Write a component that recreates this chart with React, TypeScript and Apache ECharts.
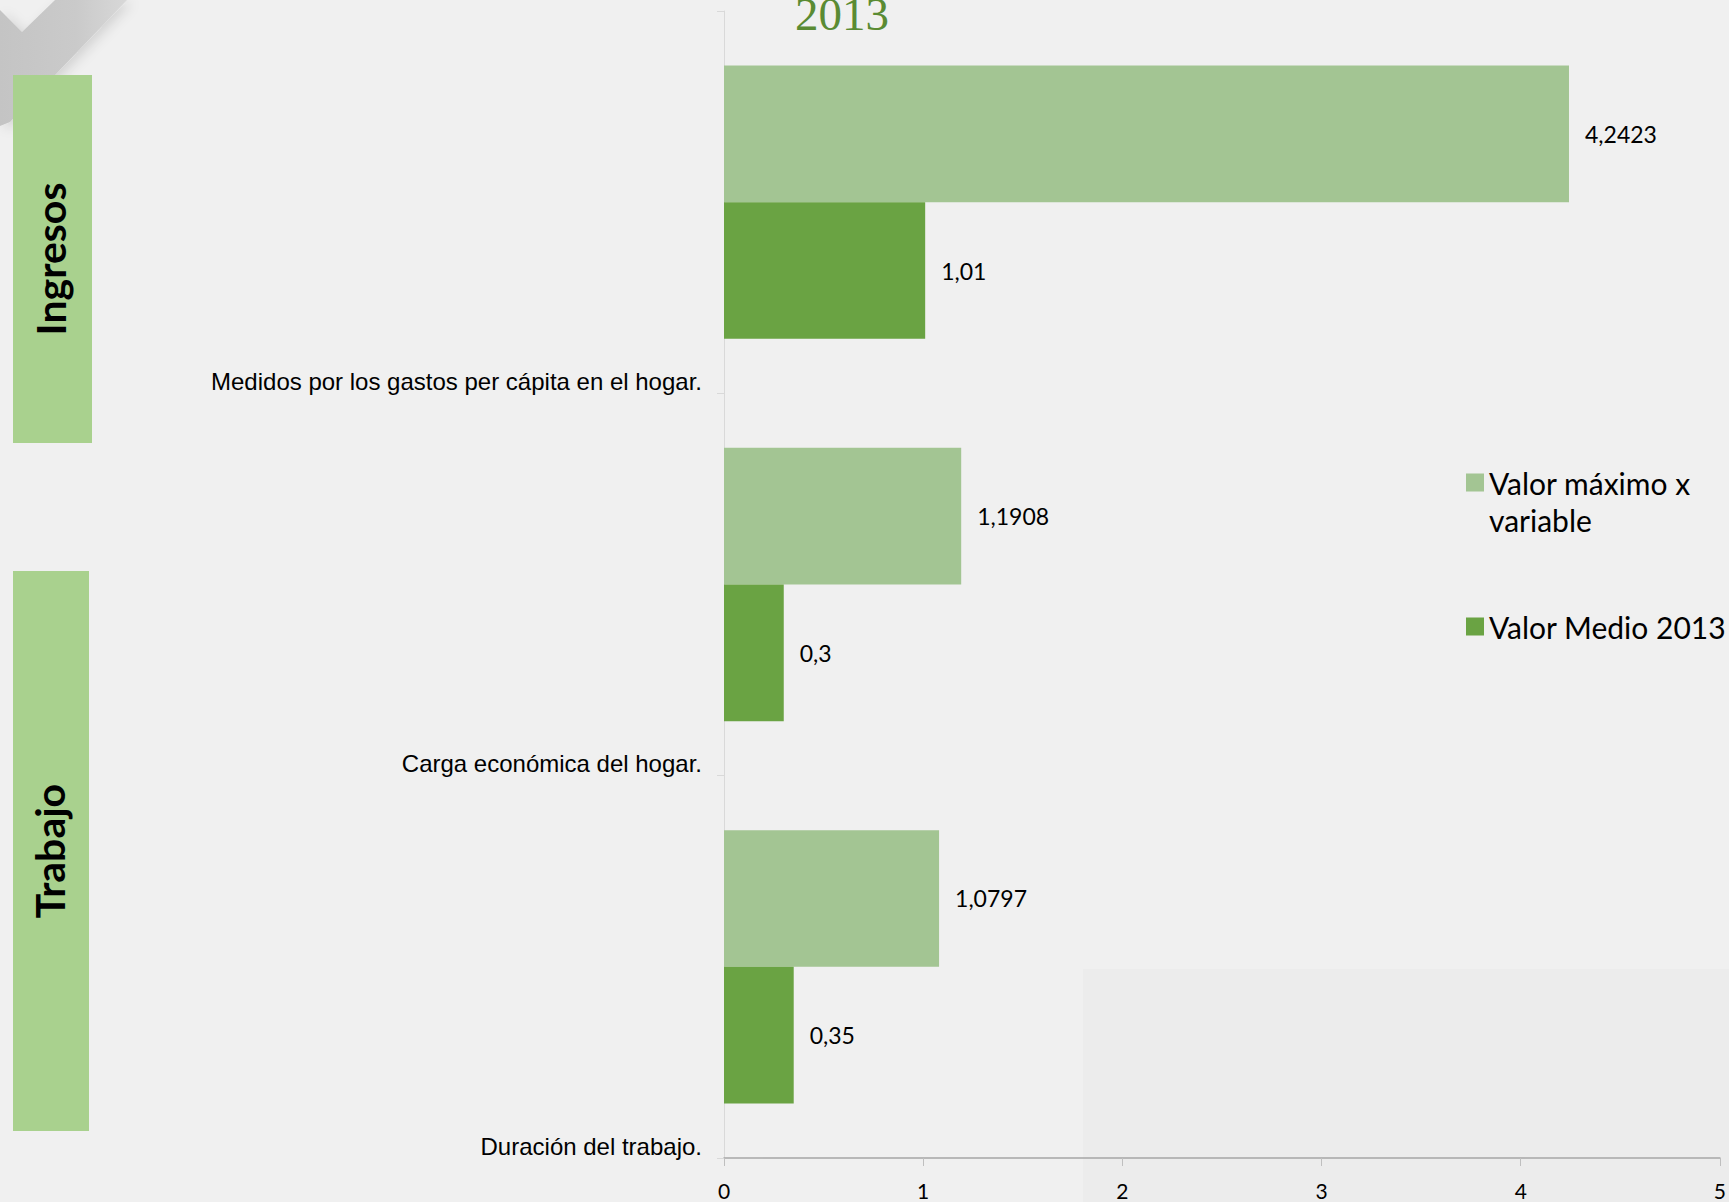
import React, { useEffect, useRef } from "react";
import * as echarts from "echarts";

const categories = [
  "Duración del trabajo.",
  "Carga económica del hogar.",
  "Medidos por los gastos per cápita en el hogar.",
];
const seriesMaxName = "Valor máximo x variable";
const seriesMeanName = "Valor Medio 2013";
const maxValues = [1.0797, 1.1908, 4.2423];
const meanValues = [0.35, 0.3, 1.01];
const xTicks = { min: 0, max: 5, interval: 1 };
const titleText = "2013";
const groupLabels = ["Ingresos", "Trabajo"];

const fmt = (v: number) => String(v).replace(".", ",");

export default function App() {
  const ref = useRef<HTMLDivElement>(null);
  useEffect(() => {
    document.body.style.margin = "0";
    document.body.style.overflow = "hidden";
    const chart = echarts.init(ref.current!, null, { renderer: "svg" });
    const labelFont = "Lato, 'Open Sans', sans-serif";
    const dataLabel = {
      show: true,
      position: "right",
      distance: 16,
      color: "#000",
      fontFamily: labelFont,
      fontSize: 23,
      formatter: (p: any) => fmt(p.value),
    };
    const legendText = {
      fontFamily: labelFont,
      fontSize: 30,
      lineHeight: 37,
      color: "#000",
    };
    chart.setOption({
      animation: false,
      backgroundColor: "#f0f0f0",
      grid: { left: 724, right: 9, top: 11, bottom: 44, containLabel: false },
      xAxis: {
        type: "value",
        min: xTicks.min,
        max: xTicks.max,
        interval: xTicks.interval,
        axisLine: { show: true, lineStyle: { color: "#a6a6a6", width: 1.5 } },
        axisTick: { show: true, length: 8, lineStyle: { color: "#bfbfbf" } },
        splitLine: { show: false },
        axisLabel: {
          color: "#000",
          fontFamily: labelFont,
          fontSize: 21,
          margin: 22,
        },
      },
      yAxis: [
        {
          type: "category",
          data: categories,
          axisLine: { show: true, lineStyle: { color: "#d9d9d9", width: 1 } },
          axisTick: { show: true, length: 7, lineStyle: { color: "#d9d9d9" } },
          axisLabel: { show: false },
        },
        {
          type: "category",
          position: "left",
          offset: 0,
          boundaryGap: false,
          data: [...categories, ""],
          axisLine: { show: false },
          axisTick: { show: false },
          splitLine: { show: false },
          axisLabel: {
            color: "#000",
            fontFamily: "'Liberation Sans', Arial, sans-serif",
            fontSize: 24,
            margin: 22,
            verticalAlign: "bottom",
          },
        },
      ],
      legend: [
        {
          data: [seriesMaxName],
          orient: "vertical",
          left: 1466,
          top: 427,
          padding: 0,
          icon: "rect",
          itemWidth: 18,
          itemHeight: 18,
          selectedMode: false,
          formatter: () => "\nValor máximo x\nvariable",
          textStyle: legendText,
        },
        {
          data: [seriesMeanName],
          orient: "vertical",
          left: 1466,
          top: 608,
          padding: 0,
          icon: "rect",
          itemWidth: 18,
          itemHeight: 18,
          selectedMode: false,
          textStyle: legendText,
        },
      ],
      series: [
        {
          name: seriesMaxName,
          type: "bar",
          yAxisIndex: 0,
          data: maxValues,
          barGap: "0%",
          barCategoryGap: "28.5%",
          itemStyle: { color: "#a3c593" },
          label: dataLabel,
        },
        {
          name: seriesMeanName,
          type: "bar",
          yAxisIndex: 0,
          data: meanValues,
          barGap: "0%",
          barCategoryGap: "28.5%",
          itemStyle: { color: "#6aa343" },
          label: dataLabel,
        },
      ],
      graphic: [
        {
          type: "rect",
          z: -10,
          shape: { x: 1083, y: 969, width: 700, height: 300 },
          style: { fill: "#ececec" },
          silent: true,
        },
        {
          type: "polygon",
          z: -5,
          shape: {
            points: [
              [0, 10],
              [22, 32],
              [55, 0],
              [127, 0],
              [10, 122],
              [0, 126],
            ],
          },
          style: {
            fill: new echarts.graphic.LinearGradient(0, 0, 1, 0, [
              { offset: 0, color: "#c4c4c4" },
              { offset: 0.6, color: "#cacaca" },
              { offset: 1, color: "#d8d8d8" },
            ]),
            shadowBlur: 12,
            shadowColor: "rgba(0,0,0,0.12)",
            shadowOffsetX: 5,
            shadowOffsetY: 3,
          },
          silent: true,
        },
        {
          type: "rect",
          shape: { x: 13, y: 75, width: 79, height: 368 },
          style: { fill: "#a9d18e" },
          silent: true,
        },
        {
          type: "rect",
          shape: { x: 13, y: 571, width: 76, height: 560 },
          style: { fill: "#a9d18e" },
          silent: true,
        },
        {
          type: "text",
          x: 50,
          y: 259,
          rotation: Math.PI / 2,
          style: {
            text: groupLabels[0],
            fontFamily: labelFont,
            fontWeight: "bold",
            fontSize: 41,
            fill: "#000",
            align: "center",
            verticalAlign: "middle",
          },
          silent: true,
        },
        {
          type: "text",
          x: 49,
          y: 851,
          rotation: Math.PI / 2,
          style: {
            text: groupLabels[1],
            fontFamily: labelFont,
            fontWeight: "bold",
            fontSize: 41,
            fill: "#000",
            align: "center",
            verticalAlign: "middle",
          },
          silent: true,
        },
        {
          type: "text",
          x: 842,
          y: 37,
          style: {
            text: titleText,
            fontFamily: "'Liberation Serif', 'DejaVu Serif', serif",
            fontSize: 47,
            fill: "#5a8b33",
            align: "center",
            verticalAlign: "bottom",
          },
          silent: true,
        },
      ],
    });
    return () => chart.dispose();
  }, []);
  return <div ref={ref} style={{ width: 1729, height: 1202 }} />;
}
